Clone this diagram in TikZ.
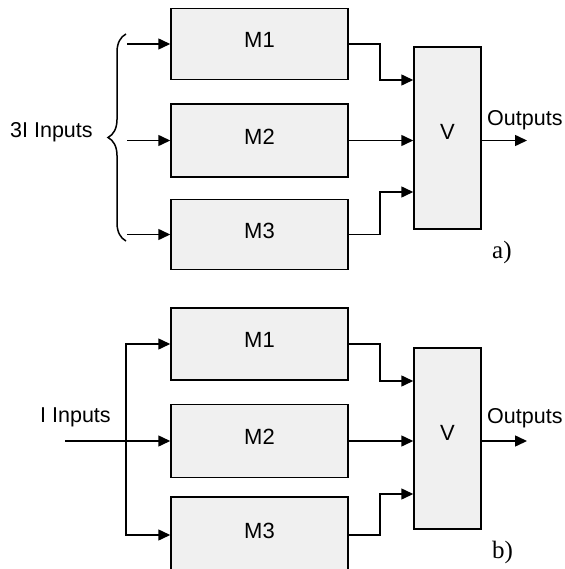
\documentclass[tikz,border=0pt]{standalone}
\usepackage{fontspec}
\setmainfont{Liberation Sans}
\newfontfamily\serifa{Liberation Serif}
\usetikzlibrary{arrows.meta,decorations.pathreplacing}
\tikzset{
  box/.style={draw=black, line width=1.5pt, fill={rgb,255:red,240;green,240;blue,240},
    minimum width=177pt, inner sep=0pt, text depth=8pt, font=\fontsize{22}{26}\selectfont},
  vbox/.style={draw=black, line width=1.5pt, fill={rgb,255:red,240;green,240;blue,240},
    minimum width=67pt, inner sep=0pt, text depth=12pt, font=\fontsize{22}{26}\selectfont},
  wire/.style={line width=1.5pt, draw=black},
  arr/.style={wire, -{Triangle[length=12pt,width=11pt]}},
  arr2/.style={wire, {Triangle[length=12pt,width=11pt]}-{Triangle[length=12pt,width=11pt]}},
  lbl/.style={inner sep=0pt, anchor=base west, font=\fontsize{21.5}{25}\selectfont},
  tag/.style={inner sep=0pt, anchor=base west, font=\serifa\fontsize{25}{28}\selectfont},
}
\begin{document}
\begin{tikzpicture}[x=1pt,y=-1pt]
\useasboundingbox (0,0) rectangle (564,569);
\clip (0,0) rectangle (564,569);
% ---------------- panel a ----------------
\node[box, minimum height=71pt] (M1a) at (259.5,44) {M1};
\node[box, minimum height=73pt] (M2a) at (259.5,140.5) {M2};
\node[box, minimum height=70pt] (M3a) at (259.5,234.5) {M3};
\node[vbox, minimum height=182pt] (Va) at (447.5,138) {V};
\coordinate (ja) at (380,0);
\coordinate (va1) at (0,80);
\coordinate (va3) at (0,192);
\draw[arr] (M1a.east) -| (ja |- M1a.east) |- (Va.west |- va1);
\draw[arr] (M2a.east) -- (Va.west |- M2a.east);
\draw[arr] (M3a.east) -| (ja |- M3a.east) |- (Va.west |- va3);
\coordinate (outa) at (527,140.5);
\draw[arr] (Va.east |- outa) -- (outa);
\node[lbl] (oa) at (487,126) {Outputs};
\node[tag] (ta) at (492,258) {a)};
% brace and inputs
\coordinate (brB) at (126,241);
\coordinate (brT) at (126,34);
\draw[wire, decorate, decoration={brace, amplitude=18pt}] (brB) -- (brT);
\coordinate (b1) at (127,44);
\coordinate (b2) at (127,140.5);
\coordinate (b3) at (127,234.5);
\draw[arr] (b1) -- (b1 -| M1a.west);
\draw[arr] (b2) -- (b2 -| M2a.west);
\draw[arr] (b3) -- (b3 -| M3a.west);
\node[lbl] (ia) at (10,138) {3I Inputs};
% ---------------- panel b ----------------
\node[box, minimum height=72pt] (M1b) at (259.5,344) {M1};
\node[box, minimum height=73pt] (M2b) at (259.5,441) {M2};
\node[box, minimum height=76pt] (M3b) at (259.5,535) {M3};
\node[vbox, minimum height=181pt] (Vb) at (447.5,438.5) {V};
\coordinate (jb) at (380,0);
\coordinate (vb1) at (0,381);
\coordinate (vb3) at (0,494);
\draw[arr] (M1b.east) -| (jb |- M1b.east) |- (Vb.west |- vb1);
\draw[arr] (M2b.east) -- (Vb.west |- M2b.east);
\draw[arr] (M3b.east) -| (jb |- M3b.east) |- (Vb.west |- vb3);
\coordinate (outb) at (527,441);
\draw[arr] (Vb.east |- outb) -- (outb);
\node[lbl] (ob) at (487,423) {Outputs};
\node[tag] (tb) at (492,558) {b)};
% inputs
\coordinate (inb) at (65,441);
\coordinate (bus) at (126,441);
\draw[arr] (inb) -- (M2b.west);
\draw[arr2] (M1b.west) -| (bus) |- (M3b.west);
\node[lbl] (ib) at (40,422) {I Inputs};
\end{tikzpicture}
\end{document}
